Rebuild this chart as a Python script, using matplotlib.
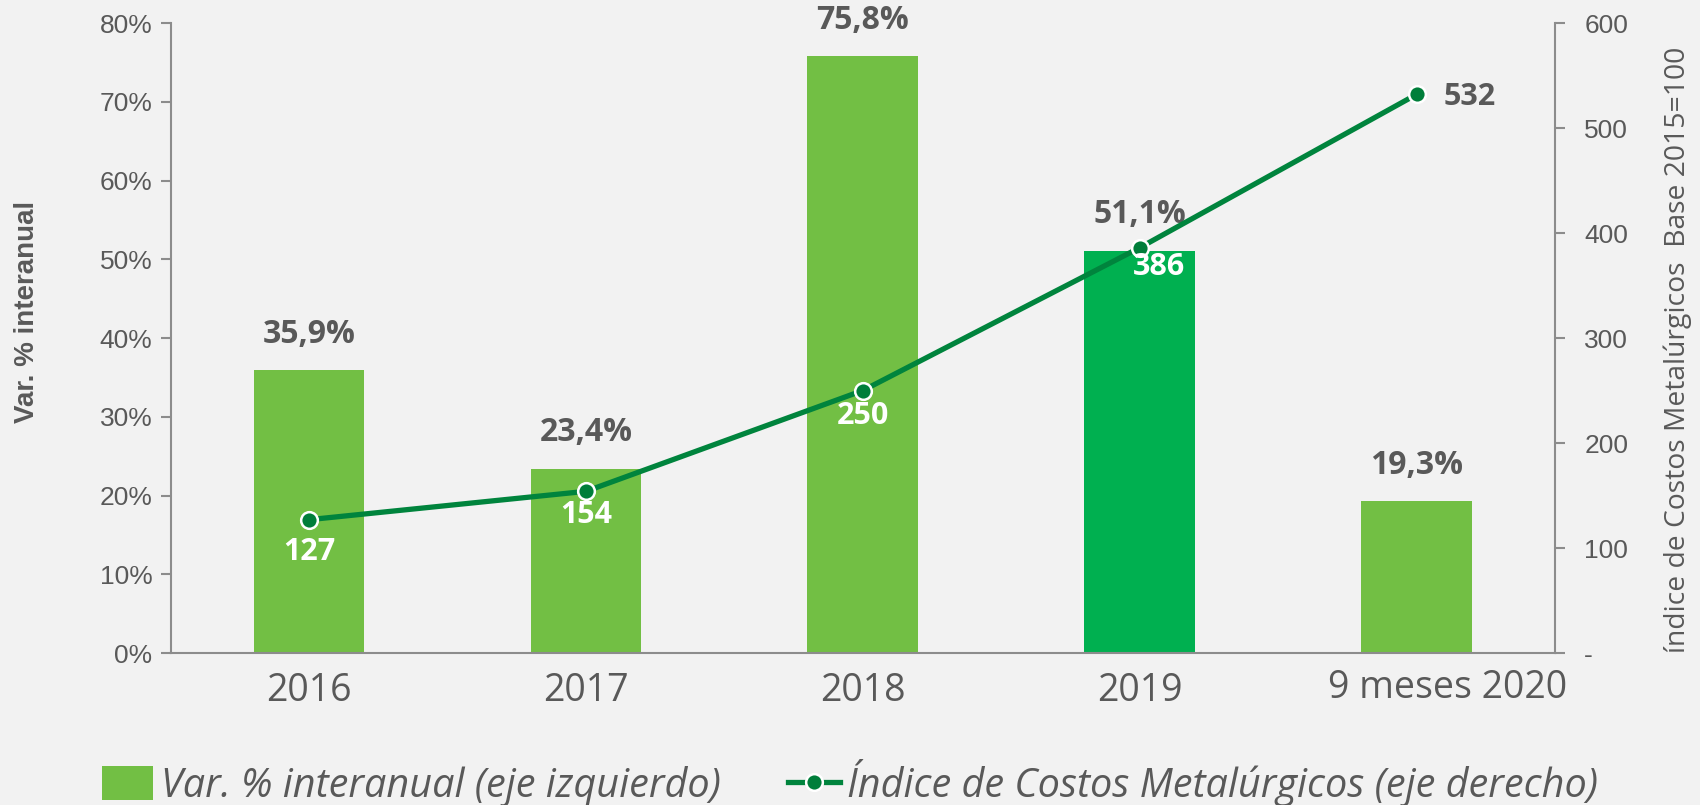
import matplotlib
matplotlib.use("Agg")
import matplotlib.pyplot as plt
import matplotlib.transforms as mtransforms
from matplotlib.patches import Patch
from matplotlib.lines import Line2D
from matplotlib.ticker import FuncFormatter

# data
categories = ["2016", "2017", "2018", "2019", "9 meses 2020"]
var_interanual = [35.9, 23.4, 75.8, 51.1, 19.3]
indice_costos = [127, 154, 250, 386, 532]
bar_labels = ["35,9%", "23,4%", "75,8%", "51,1%", "19,3%"]
line_labels = ["127", "154", "250", "386", "532"]

# styles
BG = "#F2F2F2"
GREY = "#595959"
AXIS_GREY = "#8C8C8C"
BAR_GREEN = "#72BF44"
BAR_HIGHLIGHT = "#00B050"
LINE_GREEN = "#00843D"
label_font = "Open Sans"

# per-label offsets for the line labels, in points (dx, dy) plus colour
line_label_style = [
    ((0, -23), "white"),
    ((0, -17), "white"),
    ((0, -18), "white"),
    ((14, -14), "white"),
    ((38, -2), GREY),
]

fig = plt.figure(figsize=(17, 8.05), dpi=100)
fig.patch.set_facecolor(BG)
ax = fig.add_axes([0.1004, 0.1888, 0.8143, 0.7826])
ax.set_facecolor(BG)
ax2 = ax.twinx()

x = list(range(len(categories)))
colors = [BAR_GREEN, BAR_GREEN, BAR_GREEN, BAR_HIGHLIGHT, BAR_GREEN]
ax.bar(x, var_interanual, width=0.4, color=colors, zorder=2)

ax.set_xlim(-0.5, len(categories) - 0.5)
ax.set_ylim(0, 80)
ax.set_yticks(range(0, 81, 10))
ax.yaxis.set_major_formatter(FuncFormatter(lambda v, p: f"{v:.0f}%"))
ax.set_xticks(x)
ax.set_xticklabels(categories, fontsize=27, color=GREY, family=label_font)
ax.tick_params(axis="x", length=0, pad=14)
ax.tick_params(axis="y", labelsize=19, labelcolor=GREY, color=AXIS_GREY,
               width=1.5, length=7, pad=6)
for lab in ax.get_yticklabels():
    lab.set_family("Liberation Sans")
# last category label sits a bit to the right, as in the original
last = ax.get_xticklabels()[-1]
last.set_transform(last.get_transform() +
                   mtransforms.ScaledTranslation(0.31, 0.03, fig.dpi_scale_trans))

for s in ["top", "right"]:
    ax.spines[s].set_visible(False)
ax.spines["left"].set_color(AXIS_GREY)
ax.spines["bottom"].set_color(AXIS_GREY)
ax.spines["left"].set_linewidth(1.5)
ax.spines["bottom"].set_linewidth(1.5)

for xi, v, t in zip(x, var_interanual, bar_labels):
    ax.annotate(t, (xi, v), xytext=(0, 14), textcoords="offset points",
                ha="center", va="bottom", fontsize=23, fontweight="bold",
                color=GREY, family=label_font)

# line on the right axis
ax2.plot(x, indice_costos, color=LINE_GREEN, lw=3.8, marker="o", ms=12,
         markerfacecolor="#007E3A", markeredgecolor="white", markeredgewidth=1.8,
         zorder=3)
ax2.set_ylim(0, 600)
ax2.set_yticks(range(0, 601, 100))
ax2.yaxis.set_major_formatter(FuncFormatter(lambda v, p: "-" if v == 0 else f"{v:.0f}"))
ax2.tick_params(axis="y", labelsize=19, labelcolor=GREY, color=AXIS_GREY,
                width=1.5, length=7, pad=14)
for lab in ax2.get_yticklabels():
    lab.set_family("Liberation Sans")
for s in ["top", "left", "bottom"]:
    ax2.spines[s].set_visible(False)
ax2.spines["right"].set_color(AXIS_GREY)
ax2.spines["right"].set_linewidth(1.5)

for xi, v, t, (off, c) in zip(x, indice_costos, line_labels, line_label_style):
    ax2.annotate(t, (xi, v), xytext=off, textcoords="offset points",
                 ha="center", va="center", fontsize=22, fontweight="bold",
                 color=c, family=label_font, zorder=4)

# axis titles
fig.text(27 / 1700, 1 - 312 / 805, "Var. % interanual", rotation=90,
         ha="center", va="center", fontsize=20, fontweight="bold",
         color=GREY, family="Liberation Sans")
fig.text(1678 / 1700, 1 - 350 / 805,
         "índice de Costos Metalúrgicos  Base 2015=100", rotation=90,
         ha="center", va="center", fontsize=20.3, color=GREY, family=label_font)

# legend
handles = [
    Patch(facecolor=BAR_GREEN, edgecolor="none"),
    Line2D([0], [0], color=LINE_GREEN, lw=3.8, marker="o", ms=12,
           markerfacecolor="#007E3A", markeredgecolor="white", markeredgewidth=1.8),
]
leg = fig.legend(handles,
                 ["Var. % interanual (eje izquierdo)",
                  "Índice de Costos Metalúrgicos (eje derecho)"],
                 loc="center", bbox_to_anchor=(0.5, 1 - 783 / 805), ncol=2,
                 frameon=False, handlelength=1.3, handleheight=0.95,
                 handletextpad=0.2, columnspacing=1.7,
                 prop={"family": label_font, "style": "italic", "size": 28.5})
for t in leg.get_texts():
    t.set_color(GREY)

fig.savefig("out.png", dpi=100, facecolor=BG)
